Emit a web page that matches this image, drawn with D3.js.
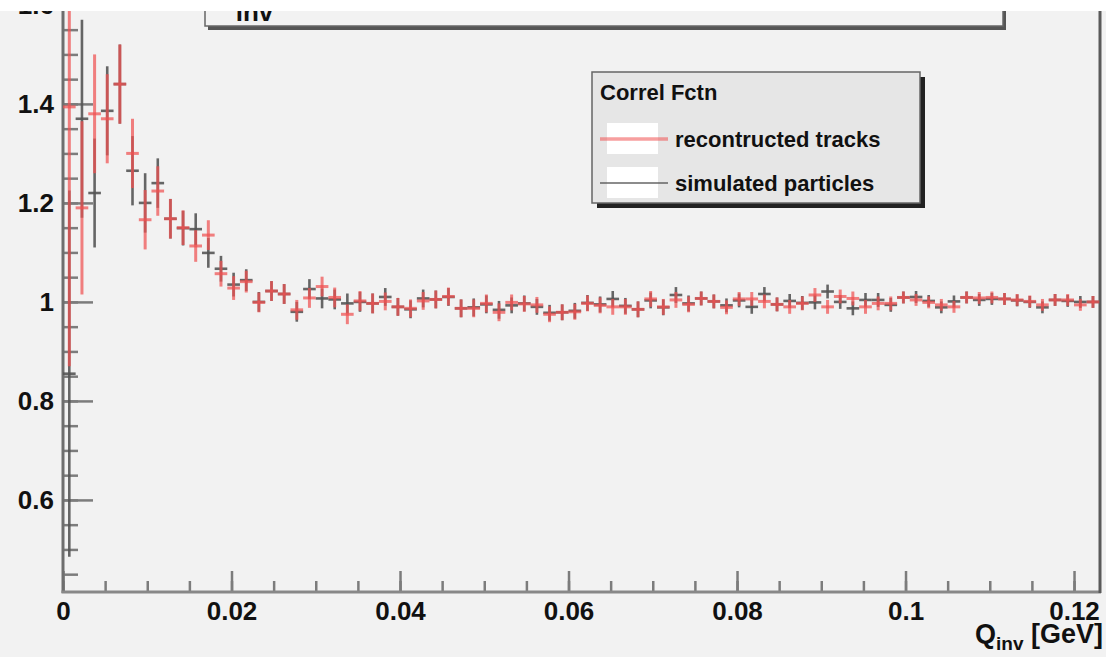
<!DOCTYPE html>
<html>
<head>
<meta charset="utf-8">
<script src="https://cdn.jsdelivr.net/npm/d3@7"></script>
<style>
  body { margin: 0; background: #ffffff; }
  svg { display: block; }
  text { font-family: "Liberation Sans", Arial, sans-serif; }
</style>
</head>
<body>
<svg width="1106" height="657"></svg>
<script>
const svg = d3.select("svg");

// histogram: 82 bins of 0.0015 GeV
const binWidth = 0.0015;

// reconstructed tracks (red)
const recoValues = [
  1.394, 1.19, 1.38, 1.37, 1.44, 1.30, 1.166, 1.224, 1.168, 1.15,
  1.113, 1.135, 1.057, 1.028, 1.041, 0.999, 1.022, 1.016, 0.984, 1.008,
  1.031, 1.009, 0.975, 1.002, 0.997, 1.001, 0.99, 0.987, 1.002, 1.005,
  1.011, 0.987, 0.987, 0.997, 0.979, 0.999, 0.996, 0.994, 0.975, 0.979,
  0.98, 0.997, 0.993, 0.99, 0.99, 0.985, 1.006, 0.99, 1.004, 0.995,
  1.007, 1.001, 0.989, 1.006, 1.006, 1.001, 0.995, 0.99, 0.997, 1.014,
  0.99, 1.011, 1.007, 0.99, 0.997, 0.997, 1.009, 1.004, 0.999, 0.994,
  0.99, 1.009, 1.008, 1.009, 1.006, 1.004, 1.001, 0.994, 1.004, 1.004,
  0.994, 1.0
];
const recoErrors = [
  0.524, 0.175, 0.12, 0.09, 0.08, 0.07, 0.06, 0.05, 0.04, 0.035,
  0.032, 0.03, 0.026, 0.024, 0.022, 0.02, 0.02, 0.02, 0.02, 0.02,
  0.02, 0.02, 0.02, 0.02, 0.02, 0.018, 0.018, 0.018, 0.018, 0.018,
  0.018, 0.018, 0.018, 0.018, 0.018, 0.016, 0.016, 0.016, 0.016, 0.016,
  0.016, 0.016, 0.016, 0.016, 0.016, 0.016, 0.016, 0.016, 0.016, 0.016,
  0.014, 0.014, 0.014, 0.014, 0.014, 0.014, 0.014, 0.014, 0.014, 0.014,
  0.014, 0.014, 0.014, 0.014, 0.014, 0.014, 0.012, 0.012, 0.012, 0.012,
  0.012, 0.012, 0.012, 0.012, 0.012, 0.012, 0.012, 0.012, 0.012, 0.012,
  0.012, 0.012
];

// simulated particles (black)
const simValues = [
  0.855, 1.37, 1.22, 1.386, 1.44, 1.265, 1.20, 1.24, 1.168, 1.149,
  1.147, 1.099, 1.067, 1.035, 1.044, 1.0, 1.022, 1.016, 0.98, 1.026,
  1.007, 1.005, 0.997, 1.0, 0.997, 1.01, 0.99, 0.985, 1.007, 1.005,
  1.01, 0.987, 0.989, 0.995, 0.984, 0.993, 0.997, 0.99, 0.978, 0.979,
  0.982, 0.998, 0.995, 1.006, 0.992, 0.985, 1.003, 0.989, 1.014, 0.997,
  1.007, 1.001, 0.993, 1.003, 0.99, 1.016, 0.995, 1.002, 0.998, 0.999,
  1.021, 1.0, 0.987, 1.004, 1.004, 0.994, 1.009, 1.01, 1.002, 0.989,
  1.001, 1.009, 1.004, 1.006, 1.006, 1.003, 1.0, 0.989, 1.004, 1.002,
  1.0, 1.0
];
const simErrors = [
  0.37, 0.2, 0.11, 0.09, 0.08, 0.07, 0.06, 0.05, 0.04, 0.035,
  0.032, 0.03, 0.026, 0.024, 0.022, 0.02, 0.02, 0.02, 0.02, 0.02,
  0.02, 0.02, 0.02, 0.02, 0.02, 0.018, 0.018, 0.018, 0.018, 0.018,
  0.018, 0.018, 0.018, 0.018, 0.018, 0.016, 0.016, 0.016, 0.016, 0.016,
  0.016, 0.016, 0.016, 0.016, 0.016, 0.016, 0.016, 0.016, 0.016, 0.016,
  0.014, 0.014, 0.014, 0.014, 0.014, 0.014, 0.014, 0.014, 0.014, 0.014,
  0.014, 0.014, 0.014, 0.014, 0.014, 0.014, 0.012, 0.012, 0.012, 0.012,
  0.012, 0.012, 0.012, 0.012, 0.012, 0.012, 0.012, 0.012, 0.012, 0.012,
  0.012, 0.012
];

const xTickValues = [0, 0.02, 0.04, 0.06, 0.08, 0.1, 0.12];
const xTickLabels = ["0", "0.02", "0.04", "0.06", "0.08", "0.1", "0.12"];
const yTickValues = [0.6, 0.8, 1.0, 1.2, 1.4, 1.6];
const yTickLabels = ["0.6", "0.8", "1", "1.2", "1.4", "1.6"];

const legendTitle = "Correl Fctn";
const legendEntries = ["recontructed tracks", "simulated particles"];

const x = d3.scaleLinear().domain([0, 0.123]).range([63, 1099.3]);
const y = d3.scaleLinear().domain([0.415, 1.62]).range([591.5, -5]);

const bgColor = "#f2f2f2";
const axisColor = "#7c7c7c";
const red = "#f05050";
const black = "#555555";

// soft edge like the upscaled original
const defs = svg.append("defs");
defs.append("filter").attr("id", "soft")
  .append("feGaussianBlur").attr("stdDeviation", 0.55);

// canvas background
svg.append("rect")
    .attr("width", 1106).attr("height", 657)
    .attr("fill", bgColor);

// title box (mostly cut off at the top)
const tb = svg.append("g");
tb.append("rect")
    .attr("x", 208).attr("y", -20).attr("width", 798).attr("height", 50)
    .attr("fill", "#555");
tb.append("rect")
    .attr("x", 205).attr("y", -20).attr("width", 798).attr("height", 46)
    .attr("fill", bgColor).attr("stroke", "#666").attr("stroke-width", 1.5);
const tt = tb.append("text")
    .attr("x", 214).attr("y", 2)
    .attr("font-size", 30).attr("font-weight", "bold").attr("fill", "#111");
tt.append("tspan").text("C");
tt.append("tspan").attr("dy", 19).attr("font-size", 26).text("inv");

// axes (ROOT style: ticks pointing into the frame)
const yMinor = d3.range(0.45, 1.62, 0.05);
svg.append("g")
    .attr("transform", "translate(63,0)")
    .call(d3.axisLeft(y).tickValues(yMinor).tickSize(-15).tickFormat(""))
    .call(g => g.select(".domain").remove())
    .call(g => g.selectAll("line").attr("stroke", axisColor).attr("stroke-width", 2.5));

svg.append("g")
    .attr("transform", "translate(63,0)")
    .call(d3.axisLeft(y).tickValues(yTickValues).tickSize(-30).tickPadding(9)
        .tickFormat((d, i) => yTickLabels[i]))
    .call(g => g.select(".domain").remove())
    .call(g => g.selectAll("line").attr("stroke", axisColor).attr("stroke-width", 2.5))
    .call(g => g.selectAll("text")
        .attr("font-size", 26).attr("font-weight", "bold").attr("fill", "#111")
        .attr("font-family", "'Liberation Sans', Arial, sans-serif"));

const xMinor = d3.range(0, 0.1235, 0.005);
svg.append("g")
    .attr("transform", "translate(0,591)")
    .call(d3.axisBottom(x).tickValues(xMinor).tickSize(-10).tickFormat(""))
    .call(g => g.select(".domain").remove())
    .call(g => g.selectAll("line").attr("stroke", axisColor).attr("stroke-width", 2.5));

svg.append("g")
    .attr("transform", "translate(0,591)")
    .call(d3.axisBottom(x).tickValues(xTickValues).tickSize(-20).tickPadding(11)
        .tickFormat((d, i) => xTickLabels[i]))
    .call(g => g.select(".domain").remove())
    .call(g => g.selectAll("line").attr("stroke", axisColor).attr("stroke-width", 2.5))
    .call(g => g.selectAll("text")
        .attr("font-size", 26).attr("font-weight", "bold").attr("fill", "#111")
        .attr("font-family", "'Liberation Sans', Arial, sans-serif"));

// frame lines
svg.append("line")
    .attr("x1", 63).attr("x2", 63).attr("y1", 0).attr("y2", 593)
    .attr("stroke", "#6e6e6e").attr("stroke-width", 3);
svg.append("line")
    .attr("x1", 61.5).attr("x2", 1101).attr("y1", 592).attr("y2", 592)
    .attr("stroke", "#888").attr("stroke-width", 3);
svg.append("line")
    .attr("x1", 1100).attr("x2", 1100).attr("y1", 0).attr("y2", 593)
    .attr("stroke", "#5a5a5a").attr("stroke-width", 3);

// axis title
const xt = svg.append("text")
    .attr("x", 1103).attr("y", 643)
    .attr("text-anchor", "end")
    .attr("font-size", 27).attr("font-weight", "bold").attr("fill", "#111");
xt.append("tspan").text("Q");
xt.append("tspan").attr("dy", 7).attr("font-size", 19).text("inv");
xt.append("tspan").attr("dy", -7).text(" [GeV]");

// histograms with error bars
function drawHist(values, errors, color, width, opacity) {
  const g = svg.append("g")
      .attr("filter", "url(#soft)")
      .attr("stroke", color).attr("stroke-width", width)
      .attr("stroke-opacity", opacity);
  values.forEach((v, i) => {
    const lo = i * binWidth, hi = (i + 1) * binWidth, c = (i + 0.5) * binWidth;
    g.append("line")
        .attr("x1", x(lo)).attr("x2", x(hi))
        .attr("y1", y(v)).attr("y2", y(v));
    g.append("line")
        .attr("x1", x(c)).attr("x2", x(c))
        .attr("y1", y(v - errors[i])).attr("y2", y(v + errors[i]));
  });
}
drawHist(simValues, simErrors, black, 2.6, 0.9);
drawHist(recoValues, recoErrors, red, 3, 0.72);

// legend
const lg = svg.append("g");
lg.append("rect")
    .attr("x", 597).attr("y", 77).attr("width", 328).attr("height", 131)
    .attr("fill", "#222");
lg.append("rect")
    .attr("x", 592).attr("y", 72).attr("width", 328).attr("height", 131)
    .attr("fill", "#e6e6e6").attr("stroke", "#666").attr("stroke-width", 1.5);
lg.append("text")
    .attr("x", 600).attr("y", 100)
    .attr("font-size", 22).attr("font-weight", "bold").attr("fill", "#111")
    .text(legendTitle);
const entryY = [139, 183];
const entryColor = [red, black];
const entryWidth = [3.5, 1.5];
legendEntries.forEach((label, i) => {
  lg.append("rect")
      .attr("x", 607).attr("y", entryY[i] - 16).attr("width", 51).attr("height", 31)
      .attr("fill", "#ffffff");
  lg.append("line")
      .attr("x1", 600).attr("x2", 668).attr("y1", entryY[i]).attr("y2", entryY[i])
      .attr("stroke", entryColor[i]).attr("stroke-width", entryWidth[i])
      .attr("stroke-opacity", i === 0 ? 0.55 : 0.9);
  lg.append("text")
      .attr("x", 675).attr("y", entryY[i] + 8)
      .attr("font-size", 22).attr("font-weight", "bold").attr("fill", "#111")
      .text(label);
});

// white strip along the top edge
svg.append("rect")
    .attr("x", 0).attr("y", 0).attr("width", 1106).attr("height", 11)
    .attr("fill", "#ffffff");
</script>
</body>
</html>
